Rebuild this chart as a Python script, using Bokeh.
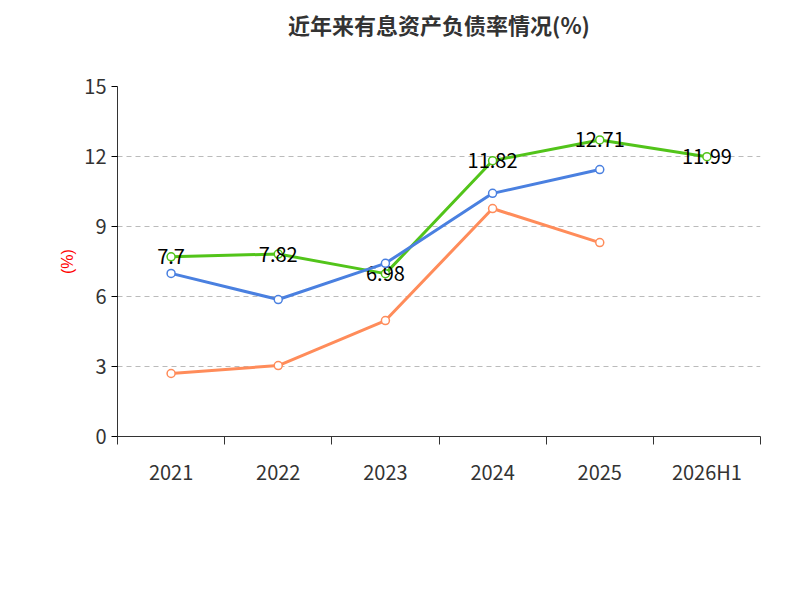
from bokeh.plotting import figure
from bokeh.models import FixedTicker, Legend, LegendItem, Title, ColumnDataSource
from bokeh.embed import file_html
from bokeh.resources import INLINE

cats = ["2021", "2022", "2023", "2024", "2025", "2026H1"]
company = [7.7, 7.82, 6.98, 11.82, 12.71, 11.99]
avg = [6.99, 5.87, 7.42, 10.42, 11.44]
median = [2.70, 3.04, 4.97, 9.77, 8.31]
yticks = [0, 3, 6, 9, 12, 15]

F = "Noto Sans CJK SC"
xs = [i + 0.5 for i in range(len(cats))]

p = figure(frame_width=643, frame_height=350, x_range=(0, 6), y_range=(0, 15),
           output_backend="svg", toolbar_location=None, title=None,
           min_border_left=117, min_border_right=24, min_border_top=0, min_border_bottom=0)
p.add_layout(Title(text=" ", text_font_size="26px"), "above")
p.add_layout(Title(text="近年来有息资产负债率情况(%)", align="center", text_font=F,
                   text_font_size="22px", text_color="#333333"), "above")
p.outline_line_color = None
p.xgrid.grid_line_color = None
p.ygrid.grid_line_dash = "5 4"
p.ygrid.grid_line_color = "#bbbbbb"
p.yaxis.ticker = FixedTicker(ticks=yticks)
p.xaxis.ticker = FixedTicker(ticks=xs, minor_ticks=list(range(7)))
p.xaxis.major_label_overrides = {x: c for x, c in zip(xs, cats)}
p.xaxis.major_tick_line_color = None
p.xaxis.minor_tick_out = 8
p.xaxis.minor_tick_in = 0
p.xaxis.minor_tick_line_color = "#333333"
p.xaxis.major_label_standoff = 12
p.yaxis.minor_tick_line_color = None
p.yaxis.major_tick_out = 6
p.yaxis.major_tick_in = 0
for ax in (p.xaxis, p.yaxis):
    ax.major_label_text_font = F
    ax.major_label_text_font_size = "20px"
    ax.major_label_text_color = "#333333"
    ax.axis_line_color = "#333333"
p.yaxis.axis_label = "(%)"
p.yaxis.axis_label_text_color = "red"
p.yaxis.axis_label_text_font_style = "normal"
p.yaxis.axis_label_text_font_size = "16px"

items = []
for ys, col, name in [(company, "#52c41a", "有息资产负债率"), (avg, "#4a80e0", "行业均值"), (median, "#ff8c5a", "行业中位数")]:
    src = ColumnDataSource(dict(x=xs[:len(ys)], y=ys, t=[str(v) for v in ys]))
    l = p.line("x", "y", source=src, line_color=col, line_width=3)
    c = p.scatter("x", "y", source=src, size=8, fill_color="white", line_color=col, line_width=1.5)
    items.append(LegendItem(label=name, renderers=[l, c]))
    if name == "有息资产负债率":
        p.text("x", "y", text="t", source=src, text_align="center", text_baseline="middle",
               text_font_size="20px", text_color="black", text_font={"value": F})

leg = Legend(items=items, orientation="horizontal", location="center",
             label_text_font=F, label_text_font_size="20px", label_text_color="#333333",
             glyph_width=50, spacing=20, border_line_color=None, margin=28)
p.add_layout(leg, "below")
p.add_layout(Title(text="制图数据来自恒生聚源数据库", align="center", text_font=F,
                   text_font_size="15px", text_color="#c8961e", text_font_style="normal"), "below")

open("out.html", "w").write(file_html(p, INLINE))
